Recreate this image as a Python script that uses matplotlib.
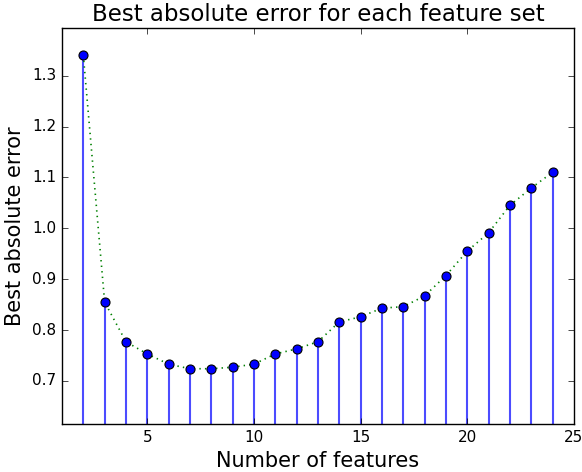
import numpy as np
import matplotlib
matplotlib.use("Agg")
import matplotlib.pyplot as plt

plt.style.use("classic")

# number of features vs best absolute error
n_features = list(range(2, 25))
best_error = [1.340, 0.855, 0.777, 0.753, 0.733, 0.724, 0.724, 0.727, 0.733,
              0.753, 0.763, 0.777, 0.816, 0.826, 0.843, 0.846, 0.867, 0.907,
              0.955, 0.991, 1.045, 1.079, 1.110]

fig = plt.figure(figsize=(5.82, 4.72), dpi=100, facecolor="white")
ax = fig.add_axes([0.1065, 0.1017, 0.8795, 0.839])

markerline, stemlines, baseline = ax.stem(n_features, best_error, bottom=0)
plt.setp(stemlines, color="blue", linewidth=1.5, alpha=0.7)
plt.setp(markerline, color="blue", markersize=6.5, markeredgecolor="black",
         markeredgewidth=0.8, zorder=4)
plt.setp(baseline, visible=False)
ax.plot(n_features, best_error, color="green", linestyle=":", linewidth=1.2, zorder=3)

ax.set_xlim(1, 25)
ax.set_ylim(min(best_error) * 0.85, max(best_error) * 1.04)
ax.set_xticks([5, 10, 15, 20, 25])
ax.set_yticks(np.arange(0.7, 1.31, 0.1))
ax.tick_params(labelsize=11)

ax.set_title("Best absolute error for each feature set", fontsize=16.5)
ax.set_xlabel("Number of features", fontsize=15)
ax.set_ylabel("Best absolute error", fontsize=15)

fig.savefig("out.png", dpi=100, facecolor="white")
